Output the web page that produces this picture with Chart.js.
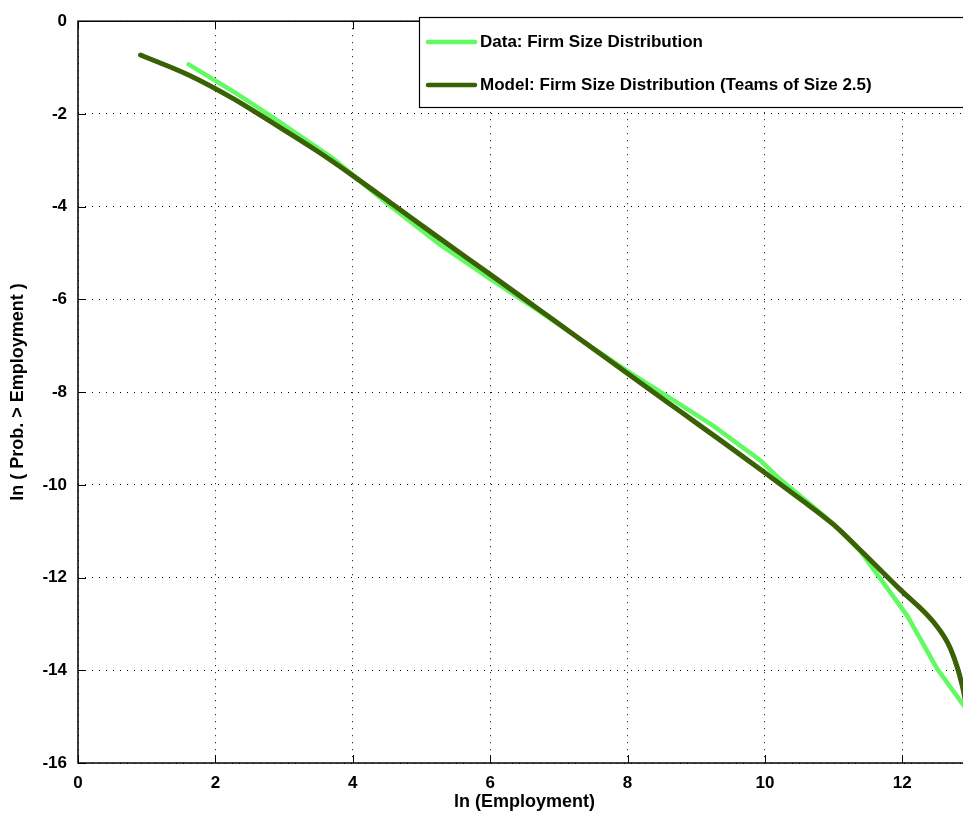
<!DOCTYPE html>
<html>
<head>
<meta charset="utf-8">
<script src="https://cdn.jsdelivr.net/npm/chart.js@4"></script>
<style>
  html, body { margin: 0; padding: 0; background: #fff; overflow: hidden; }
  #wrap { width: 972px; height: 819px; }
</style>
</head>
<body>
<div id="wrap"><canvas id="myChart" width="972" height="819"></canvas></div>
<script>
// values
var dataX = [1.61, 2.31, 2.89, 3.72, 4.5, 5.27, 6.0, 6.73, 7.31, 8.01, 8.77, 9.25, 9.93, 10.22, 10.66, 11.0, 11.39, 12.07, 12.5, 12.88, 13.0];
var dataY = [-0.93, -1.56, -2.13, -2.97, -3.93, -4.82, -5.56, -6.27, -6.86, -7.56, -8.27, -8.73, -9.47, -9.88, -10.42, -10.85, -11.43, -12.82, -13.95, -14.73, -14.98];

var modelX = [0.91, 1.61, 2.26, 2.84, 3.48, 4.0, 4.59, 5.27, 6.0, 6.73, 7.31, 8.0, 8.77, 9.4, 10.0, 10.51, 11.0, 11.39, 11.97, 12.46, 12.7, 12.87, 13.0];
var modelY = [-0.73, -1.16, -1.67, -2.2, -2.8, -3.33, -3.96, -4.69, -5.46, -6.24, -6.86, -7.6, -8.42, -9.09, -9.74, -10.3, -10.86, -11.41, -12.26, -12.97, -13.53, -14.31, -15.3];

var xTicks = [0, 2, 4, 6, 8, 10, 12];
var yTicks = [0, -2, -4, -6, -8, -10, -12, -14, -16];

var legendLabels = ['Data: Firm Size Distribution', 'Model: Firm Size Distribution (Teams of Size 2.5)'];
var dataColor = '#62fa62';
var modelColor = '#3a6204';
var fontFamily = '"Liberation Sans", Arial, sans-serif';

function toPoints(xs, ys) {
    var pts = [];
    for (var i = 0; i < xs.length; i++) {
        pts.push({ x: xs[i], y: ys[i] });
    }
    return pts;
}

// box, inner ticks and legend in the MATLAB style
var framePlugin = {
    id: 'frame',
    afterDatasetsDraw: function(chart) {
        var ctx = chart.ctx;
        var a = chart.chartArea;
        var xs = chart.scales.x;
        var ys = chart.scales.y;
        ctx.save();
        ctx.strokeStyle = '#000';
        ctx.lineWidth = 1.5;
        ctx.strokeRect(a.left, a.top, a.right - a.left, a.bottom - a.top);
        ctx.lineWidth = 1;
        xTicks.forEach(function(t) {
            var px = Math.round(xs.getPixelForValue(t)) + 0.5;
            ctx.beginPath();
            ctx.moveTo(px, a.bottom); ctx.lineTo(px, a.bottom - 8);
            ctx.moveTo(px, a.top); ctx.lineTo(px, a.top + 8);
            ctx.stroke();
        });
        yTicks.forEach(function(t) {
            var py = Math.round(ys.getPixelForValue(t)) + 0.5;
            ctx.beginPath();
            ctx.moveTo(a.left, py); ctx.lineTo(a.left + 8, py);
            ctx.stroke();
        });

        // legend
        var lx = 419, ly = 17, lw = 560, lh = 90;
        ctx.fillStyle = '#fff';
        ctx.fillRect(lx, ly, lw, lh);
        ctx.strokeStyle = '#000';
        ctx.lineWidth = 1.2;
        ctx.strokeRect(lx + 0.5, ly + 0.5, lw, lh);
        var colors = [dataColor, modelColor];
        var rows = [42, 85];
        ctx.font = 'bold 17px ' + fontFamily;
        ctx.textBaseline = 'middle';
        ctx.textAlign = 'left';
        for (var i = 0; i < legendLabels.length; i++) {
            ctx.strokeStyle = colors[i];
            ctx.lineWidth = 4.5;
            ctx.lineCap = 'round';
            ctx.beginPath();
            ctx.moveTo(428, rows[i]);
            ctx.lineTo(475, rows[i]);
            ctx.stroke();
            ctx.fillStyle = '#000';
            ctx.fillText(legendLabels[i], 480, rows[i]);
        }
        ctx.restore();
    }
};

var ctx = document.getElementById('myChart').getContext('2d');
var myChart = new Chart(ctx, {
    type: 'line',
    data: {
        datasets: [{
            label: legendLabels[1],
            data: toPoints(modelX, modelY),
            borderColor: modelColor,
            borderWidth: 5,
            pointRadius: 0,
            cubicInterpolationMode: 'monotone',
            borderCapStyle: 'round',
            fill: false
        }, {
            label: legendLabels[0],
            data: toPoints(dataX, dataY),
            borderColor: dataColor,
            borderWidth: 4.5,
            pointRadius: 0,
            tension: 0,
            borderCapStyle: 'round',
            fill: false
        }]
    },
    options: {
        responsive: false,
        animation: false,
        layout: { padding: { top: 8, right: 1, left: 0, bottom: 0 } },
        plugins: {
            legend: { display: false },
            tooltip: { enabled: false }
        },
        scales: {
            x: {
                type: 'linear',
                min: 0,
                max: 13,
                afterBuildTicks: function(scale) {
                    scale.ticks = xTicks.map(function(v) { return { value: v }; });
                },
                afterFit: function(scale) { scale.height = 56; },
                grid: {
                    color: '#000',
                    lineWidth: 1,
                    drawTicks: false
                },
                border: { display: false, dash: [1, 6] },
                ticks: {
                    color: '#000',
                    padding: 10,
                    maxRotation: 0,
                    font: { family: fontFamily, size: 17, weight: 'bold' }
                },
                title: {
                    display: true,
                    text: 'ln (Employment)',
                    color: '#000',
                    padding: { top: 0, bottom: 6 },
                    font: { family: fontFamily, size: 18, weight: 'bold' }
                }
            },
            y: {
                type: 'linear',
                min: -16,
                max: 0,
                afterBuildTicks: function(scale) {
                    scale.ticks = yTicks.map(function(v) { return { value: v }; });
                },
                afterFit: function(scale) { scale.width = 78; },
                grid: {
                    color: '#000',
                    lineWidth: 1,
                    drawTicks: false
                },
                border: { display: false, dash: [1, 6] },
                ticks: {
                    color: '#000',
                    padding: 11,
                    font: { family: fontFamily, size: 17, weight: 'bold' }
                },
                title: {
                    display: true,
                    text: 'ln ( Prob. > Employment )',
                    color: '#000',
                    padding: { top: 7, bottom: 0 },
                    font: { family: fontFamily, size: 18, weight: 'bold' }
                }
            }
        }
    },
    plugins: [framePlugin]
});
</script>
</body>
</html>
